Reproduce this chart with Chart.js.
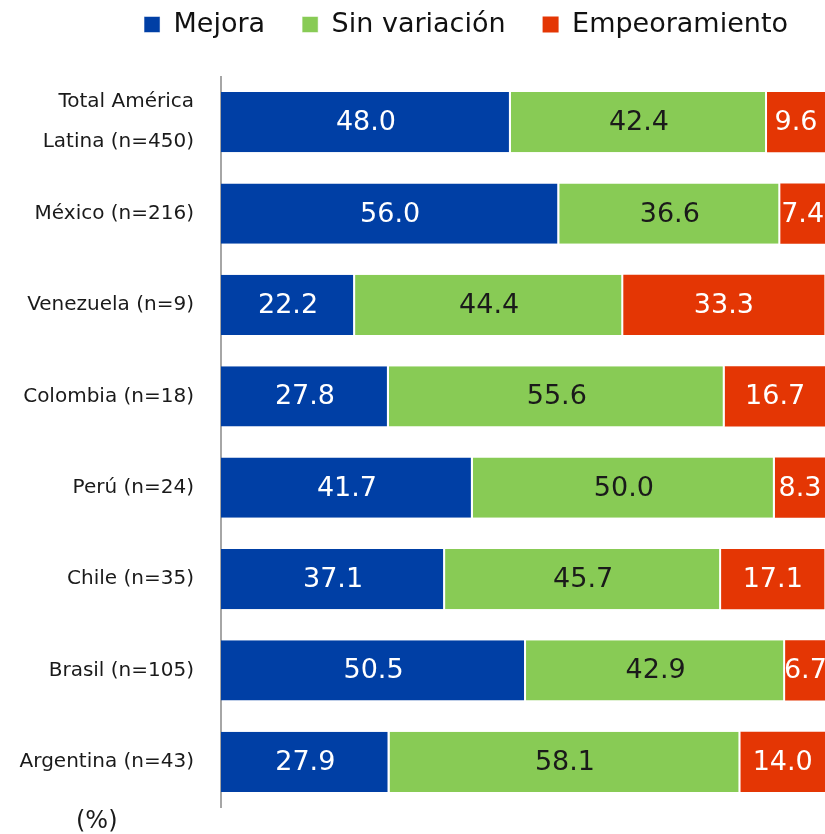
<!DOCTYPE html>
<html>
<head>
<meta charset="utf-8">
<script src="https://cdn.jsdelivr.net/npm/chart.js@4.4.0/dist/chart.umd.min.js"></script>
<style>
  html, body { margin: 0; padding: 0; background: #fff; }
  #wrap { position: relative; width: 825px; height: 834px; overflow: hidden; }
  #unit { position: absolute; left: 76px; top: 806px; font: 24px "DejaVu Sans", sans-serif; color: #1a1a1a; line-height: 28px; }
</style>
</head>
<body>
<div id="wrap">
  <canvas id="chartCanvas" width="825" height="834"></canvas>
  <div id="unit">(%)</div>
</div>
<script>
// Data
const categories = [
  ["Total América", "Latina (n=450)"],
  "México (n=216)",
  "Venezuela (n=9)",
  "Colombia (n=18)",
  "Perú (n=24)",
  "Chile (n=35)",
  "Brasil (n=105)",
  "Argentina (n=43)"
];
const mejora        = [48.0, 56.0, 22.2, 27.8, 41.7, 37.1, 50.5, 27.9];
const sinVariacion  = [42.4, 36.6, 44.4, 55.6, 50.0, 45.7, 42.9, 58.1];
const empeoramiento = [9.6, 7.4, 33.3, 16.7, 8.3, 17.1, 6.7, 14.0];

Chart.defaults.font.family = "'DejaVu Sans', sans-serif";

// draws the value in the middle of each bar segment
const valueLabels = {
  id: "valueLabels",
  afterDatasetsDraw(chart) {
    const ctx = chart.ctx;
    ctx.save();
    ctx.font = "27px 'DejaVu Sans'";
    ctx.textAlign = "center";
    ctx.textBaseline = "middle";
    chart.data.datasets.forEach((ds, i) => {
      const meta = chart.getDatasetMeta(i);
      meta.data.forEach((bar, j) => {
        ctx.fillStyle = ds.labelColor;
        const x = (bar.x + bar.base) / 2;
        ctx.fillText(ds.data[j].toFixed(1), x, bar.y + 1);
      });
    });
    ctx.restore();
  }
};

const ctx = document.getElementById("chartCanvas").getContext("2d");
new Chart(ctx, {
  type: "bar",
  data: {
    labels: categories,
    datasets: [
      { label: "Mejora", data: mejora, backgroundColor: "#003fa5", labelColor: "#ffffff" },
      { label: "Sin variación", data: sinVariacion, backgroundColor: "#88cb55", labelColor: "#1a1a1a" },
      { label: "Empeoramiento", data: empeoramiento, backgroundColor: "#e43604", labelColor: "#ffffff",
        borderWidth: 0 }
    ]
  },
  options: {
    indexAxis: "y",
    responsive: false,
    animation: false,
    datasets: {
      bar: {
        borderColor: "#ffffff",
        borderWidth: { right: 2, left: 0, top: 0, bottom: 0 },
        borderSkipped: false,
        categoryPercentage: 1,
        barPercentage: 0.66
      }
    },
    layout: { padding: { top: -26, right: 0, bottom: 26.5, left: 0 } },
    plugins: {
      legend: {
        position: "top",
        align: "end",
        labels: {
          color: "#111",
          font: { size: 27 },
          boxWidth: 16,
          boxHeight: 16,
          padding: 37
        }
      },
      tooltip: { enabled: false }
    },
    scales: {
      x: {
        position: "top",
        stacked: true,
        min: 0,
        max: 100,
        ticks: { display: false },
        grid: { display: false, drawTicks: false },
        border: { display: false },
        afterFit(scale) { scale.height = 28.5; }
      },
      y: {
        stacked: true,
        ticks: {
          color: "#1a1a1a",
          font: { size: 20, lineHeight: 2.0 },
          padding: 27
        },
        grid: { display: false, drawTicks: false },
        border: { display: true, color: "#a6a6a6", width: 2 },
        afterFit(scale) {
          scale.width = 221;
          scale.paddingTop = 0;
          scale.paddingBottom = 0;
        }
      }
    }
  },
  plugins: [valueLabels]
});
</script>
</body>
</html>
